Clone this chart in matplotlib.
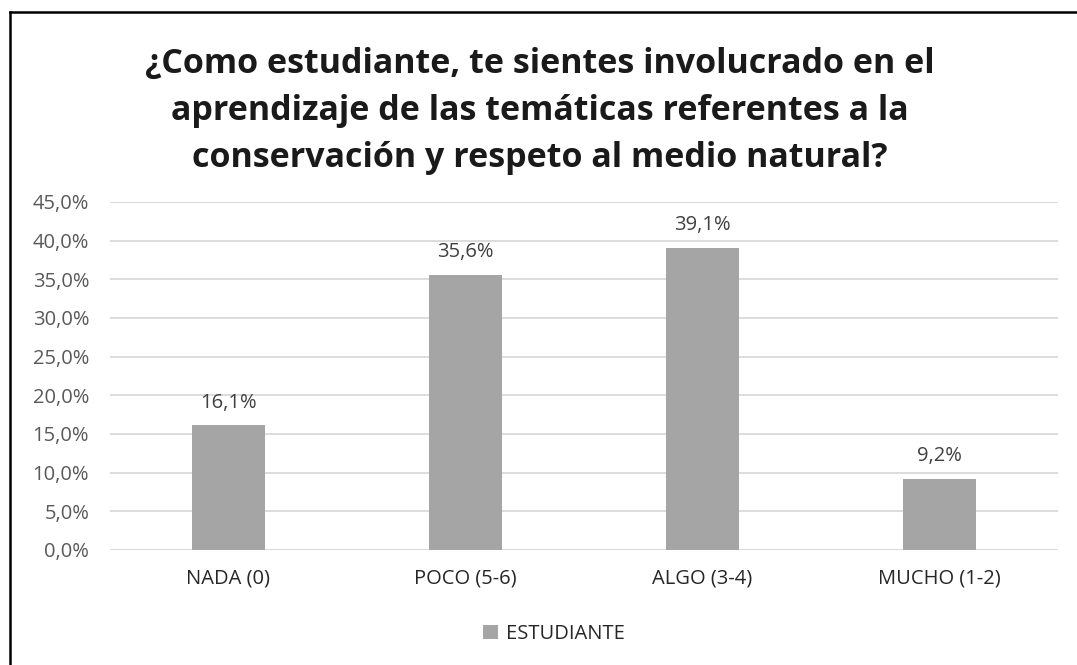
import matplotlib
matplotlib.use("Agg")
import matplotlib.pyplot as plt
from matplotlib.lines import Line2D
from matplotlib.ticker import FuncFormatter

plt.rcParams['font.family'] = ['Open Sans', 'DejaVu Sans']

# chart data
categories = ['NADA (0)', 'POCO (5-6)', 'ALGO (3-4)', 'MUCHO (1-2)']
estudiante = [16.1, 35.6, 39.1, 9.2]
y_ticks = [0, 5, 10, 15, 20, 25, 30, 35, 40, 45]
title = ('¿Como estudiante, te sientes involucrado en el\n'
         'aprendizaje de las temáticas referentes a la\n'
         'conservación y respeto al medio natural?')

W, H = 1077, 665
fig = plt.figure(figsize=(W / 100, H / 100), dpi=100)
ax = fig.add_axes([110 / W, 1 - 550 / H, (1058 - 110) / W, (550 - 202) / H])

bars = ax.bar(range(len(categories)), estudiante, width=0.31,
              color='#a5a5a5', label='ESTUDIANTE', zorder=3)

for rect, v in zip(bars, estudiante):
    ax.annotate(f'{v:.1f}%'.replace('.', ','),
                (rect.get_x() + rect.get_width() / 2, v),
                xytext=(0, 9), textcoords='offset points',
                ha='center', va='bottom', fontsize=14.5, color='#404040')

ax.set_xlim(-0.5, len(categories) - 0.5)
ax.set_ylim(0, 45)
ax.set_yticks(y_ticks)
ax.yaxis.set_major_formatter(
    FuncFormatter(lambda v, _: f'{v:.1f}%'.replace('.', ',')))
ax.set_xticks(range(len(categories)))
ax.set_xticklabels(categories)
ax.tick_params(axis='both', length=0, labelsize=14.5, labelcolor='#595959')
ax.tick_params(axis='y', pad=15)
ax.tick_params(axis='x', pad=13, labelcolor='#262626')
ax.grid(axis='y', color='#d9d9d9', linewidth=1.3, zorder=0)
for s in ax.spines.values():
    s.set_visible(False)

fig.text(540 / W, 1 - 111 / H, title, ha='center', va='center',
         fontsize=24.5, fontweight='bold', color='#1a1a1a', linespacing=1.5)

fig.legend(loc='center', bbox_to_anchor=(554 / W, 1 - 634 / H),
           frameon=False, fontsize=14.5, handlelength=0.7, handleheight=0.7,
           handletextpad=0.4, labelcolor='#262626')

# outer border (top and left edges only visible)
fig.add_artist(Line2D([10 / W, 1], [1 - 12 / H, 1 - 12 / H],
                      transform=fig.transFigure, color='black', linewidth=1.8))
fig.add_artist(Line2D([10 / W, 10 / W], [0, 1 - 12 / H],
                      transform=fig.transFigure, color='black', linewidth=1.8))

fig.savefig('out.png', dpi=100, facecolor='white')
